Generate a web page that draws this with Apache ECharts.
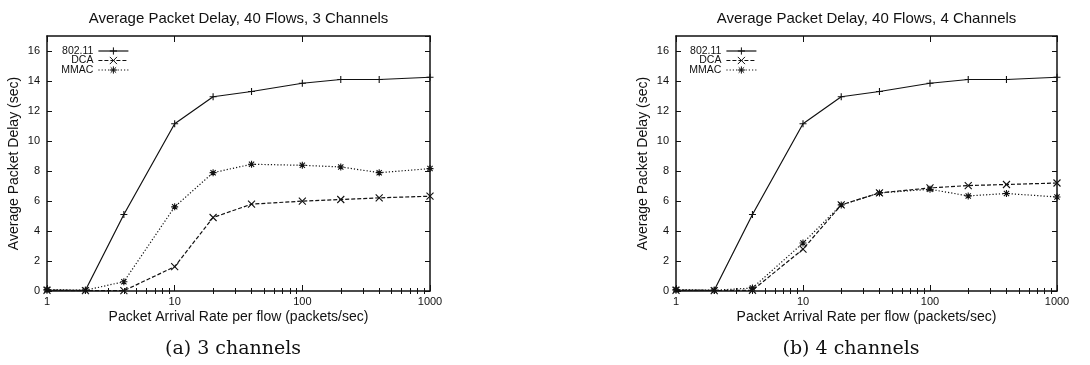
<!DOCTYPE html>
<html>
<head>
<meta charset="utf-8">
<script src="https://cdn.jsdelivr.net/npm/echarts@6/dist/echarts.min.js"></script>
<style>
  html, body { margin: 0; padding: 0; background: #fff; }
  #chart { width: 1090px; height: 365px; }
</style>
</head>
<body>
<div id="chart"></div>
<script>
// Packet arrival rate per flow (packets/sec), shared x values
const rates = [1, 2, 4, 10, 20, 40, 100, 200, 400, 1000];

// Average packet delay (sec), 40 flows, 3 channels
const delay3_80211 = [0.05, 0.05, 5.1, 11.15, 12.95, 13.3, 13.85, 14.1, 14.1, 14.25];
const delay3_DCA   = [0.05, 0.02, 0.02, 1.62, 4.9, 5.79, 5.99, 6.1, 6.21, 6.32];
const delay3_MMAC  = [0.1, 0.05, 0.62, 5.61, 7.89, 8.45, 8.38, 8.27, 7.89, 8.16];

// Average packet delay (sec), 40 flows, 4 channels
const delay4_80211 = [0.05, 0.05, 5.1, 11.15, 12.95, 13.3, 13.85, 14.1, 14.1, 14.25];
const delay4_DCA   = [0.05, 0.03, 0.05, 2.79, 5.74, 6.54, 6.87, 7.03, 7.1, 7.2];
const delay4_MMAC  = [0.1, 0.05, 0.2, 3.2, 5.74, 6.54, 6.78, 6.34, 6.5, 6.27];

const seriesNames = ['802.11', 'DCA', 'MMAC'];
const chartTitles = ['Average Packet Delay, 40 Flows, 3 Channels', 'Average Packet Delay, 40 Flows, 4 Channels'];
const captions = ['(a) 3 channels', '(b) 4 channels'];
const xAxisName = 'Packet Arrival Rate per flow (packets/sec)';
const yAxisName = 'Average Packet Delay (sec)';
const xMajorTicks = [1, 10, 100, 1000];
const xMinorTicks = [2, 3, 4, 5, 6, 7, 8, 9, 20, 30, 40, 50, 60, 70, 80, 90, 200, 300, 400, 500, 600, 700, 800, 900];
const yMin = 0, yMax = 17, yStep = 2;

const panelData = [
  [delay3_80211, delay3_DCA, delay3_MMAC],
  [delay4_80211, delay4_DCA, delay4_MMAC]
];

// gnuplot-like point types: plus, cross, asterisk
const markers = [
  'path://M0,4L8,4M4,0L4,8',
  'path://M0,0L8,8M0,8L8,0',
  'path://M0,4L8,4M4,0L4,8M1,1L7,7M1,7L7,1'
];
const dashes = ['solid', [4, 2], [1.2, 2]];

const INK = '#111';
const SANS = 'Liberation Sans, Arial, Helvetica, sans-serif';

// plot frames in pixels
const panels = [
  { left: 47, right: 660, top: 36, bottom: 74, titleX: 238.5, captionX: 233, legendRight: 961 },
  { left: 676, right: 33, top: 36, bottom: 74, titleX: 866.5, captionX: 851, legendRight: 333 }
];
const legendRows = [50.5, 60, 69.5];

const grid = [], xAxis = [], yAxis = [], series = [], legend = [], title = [];

panels.forEach((p, pi) => {
  grid.push({ left: p.left, right: p.right, top: p.top, bottom: p.bottom, show: false });

  const baseX = {
    type: 'log', logBase: 10, min: 1, max: 1000, gridIndex: pi,
    splitLine: { show: false }, minorSplitLine: { show: false }
  };
  // bottom axis with labels and major ticks
  const mainX = xAxis.length;
  xAxis.push(Object.assign({}, baseX, {
    position: 'bottom',
    name: xAxisName, nameLocation: 'middle', nameGap: 19, nameMoveOverlap: false,
    nameTextStyle: { color: INK, fontFamily: SANS, fontSize: 14 },
    axisLine: { show: true, onZero: false, lineStyle: { color: INK, width: 1.5 } },
    axisTick: { show: true, inside: true, length: 6, customValues: xMajorTicks, lineStyle: { color: INK, width: 1 } },
    axisLabel: { show: true, margin: 5, customValues: xMajorTicks, color: INK, fontFamily: SANS, fontSize: 11,
                 formatter: v => String(v) }
  }));
  // bottom minor ticks
  xAxis.push(Object.assign({}, baseX, {
    position: 'bottom',
    axisLine: { show: false },
    axisTick: { show: true, inside: true, length: 3, customValues: xMinorTicks, lineStyle: { color: INK, width: 1 } },
    axisLabel: { show: false }
  }));
  // top frame with mirrored ticks
  xAxis.push(Object.assign({}, baseX, {
    position: 'top',
    axisLine: { show: true, onZero: false, lineStyle: { color: INK, width: 1.5 } },
    axisTick: { show: true, inside: true, length: 6, customValues: xMajorTicks, lineStyle: { color: INK, width: 1 } },
    axisLabel: { show: false }
  }));
  xAxis.push(Object.assign({}, baseX, {
    position: 'top',
    axisLine: { show: false },
    axisTick: { show: true, inside: true, length: 3, customValues: xMinorTicks, lineStyle: { color: INK, width: 1 } },
    axisLabel: { show: false }
  }));

  const baseY = {
    type: 'value', min: yMin, max: yMax, interval: yStep, gridIndex: pi,
    splitLine: { show: false }
  };
  const mainY = yAxis.length;
  yAxis.push(Object.assign({}, baseY, {
    position: 'left',
    name: yAxisName, nameLocation: 'middle', nameGap: 26, nameRotate: 90, nameMoveOverlap: false,
    nameTextStyle: { color: INK, fontFamily: SANS, fontSize: 14 },
    axisLine: { show: true, onZero: false, lineStyle: { color: INK, width: 1.5 } },
    axisTick: { show: true, inside: true, length: 5, lineStyle: { color: INK, width: 1 } },
    axisLabel: { show: true, margin: 7, showMaxLabel: false, color: INK, fontFamily: SANS, fontSize: 11 }
  }));
  yAxis.push(Object.assign({}, baseY, {
    position: 'right',
    axisLine: { show: true, onZero: false, lineStyle: { color: INK, width: 1.5 } },
    axisTick: { show: true, inside: true, length: 5, lineStyle: { color: INK, width: 1 } },
    axisLabel: { show: false }
  }));

  seriesNames.forEach((name, si) => {
    series.push({
      type: 'line', name: name,
      xAxisIndex: mainX, yAxisIndex: mainY,
      data: rates.map((r, k) => [r, panelData[pi][si][k]]),
      symbol: markers[si], symbolSize: 7, symbolKeepAspect: true,
      showAllSymbol: true,
      itemStyle: { color: INK, borderColor: INK, borderWidth: 1.1 },
      lineStyle: { color: INK, width: 1.2, type: dashes[si] },
      emphasis: { disabled: true },
      animation: false, z: 3 - si
    });

    legend.push({
      data: [name],
      orient: 'horizontal', align: 'right',
      right: p.legendRight, top: legendRows[si] - 5,
      padding: 0, itemWidth: 30, itemHeight: 9, itemGap: 0,
      selectedMode: false,
      textStyle: { color: INK, fontFamily: SANS, fontSize: 10.5, lineHeight: 10 },
      itemStyle: { color: INK, borderColor: INK, borderWidth: 1 },
      lineStyle: { color: INK, width: 1.2, type: dashes[si] }
    });
  });

  title.push({
    text: chartTitles[pi], left: p.titleX, top: 11, textAlign: 'center', padding: 0,
    textStyle: { color: INK, fontFamily: SANS, fontSize: 15, fontWeight: 'normal' }
  });
  title.push({
    text: captions[pi], left: p.captionX, top: 340, textAlign: 'center', padding: 0,
    textStyle: { color: INK, fontFamily: 'DejaVu Serif, Liberation Serif, serif', fontSize: 19, fontWeight: 'normal' }
  });
});

const chart = echarts.init(document.getElementById('chart'), null, { renderer: 'canvas' });
chart.setOption({
  animation: false,
  backgroundColor: '#fff',
  title, grid, xAxis, yAxis, series, legend,
  tooltip: { show: false }
});
</script>
</body>
</html>
